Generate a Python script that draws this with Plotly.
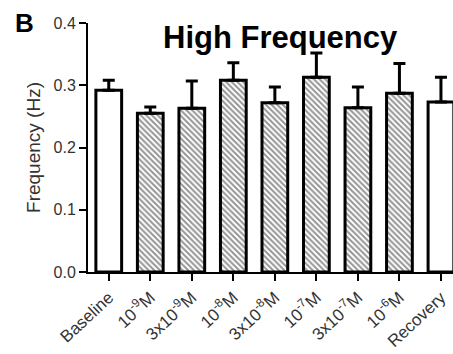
import plotly.graph_objects as go

categories = ["Baseline", "1e-9", "3e-9", "1e-8", "3e-8", "1e-7", "3e-7", "1e-6", "Recovery"]
tick_labels = ["Baseline", "10<sup>-9</sup>M", "3x10<sup>-9</sup>M", "10<sup>-8</sup>M",
               "3x10<sup>-8</sup>M", "10<sup>-7</sup>M", "3x10<sup>-7</sup>M", "10<sup>-6</sup>M", "Recovery"]
means = [0.292, 0.255, 0.263, 0.308, 0.272, 0.313, 0.264, 0.287, 0.273]
sem = [0.016, 0.010, 0.044, 0.028, 0.025, 0.039, 0.033, 0.048, 0.040]
hatched = [False, True, True, True, True, True, True, True, False]

font = "Arial, Liberation Sans, sans-serif"
x = list(range(len(categories)))

fig = go.Figure()
fig.add_trace(go.Bar(
    x=x, y=means, width=0.62,
    marker=dict(
        color="white",
        line=dict(color="black", width=3),
        pattern=dict(shape=["\\" if h else "" for h in hatched], fgcolor="#2a2a2a",
                     bgcolor="white", size=4, solidity=0.5),
    ),
    error_y=dict(type="data", array=sem, arrayminus=[0] * len(sem), symmetric=False,
                 color="black", thickness=3, width=6),
    showlegend=False,
))

fig.update_layout(
    width=453, height=354,
    margin=dict(l=88, r=0, t=23, b=82),
    paper_bgcolor="white", plot_bgcolor="white",
    font=dict(family=font, color="#333333"),
    xaxis=dict(
        range=[-0.5, 8.29], tickvals=x, ticktext=tick_labels, tickangle=-43,
        showline=True, linecolor="black", linewidth=2,
        ticks="outside", ticklen=7, tickwidth=2, tickcolor="black",
        tickfont=dict(size=17, color="#333333"), showgrid=False, zeroline=False,
    ),
    yaxis=dict(
        range=[0, 0.4], tickvals=[0, 0.1, 0.2, 0.3, 0.4], tickformat=".1f",
        showline=True, linecolor="black", linewidth=2,
        ticks="outside", ticklen=7, tickwidth=2, tickcolor="black",
        tickfont=dict(size=16, color="#333333"), showgrid=False, zeroline=False,
        title=dict(text="Frequency (Hz)", font=dict(size=19, color="#333333"), standoff=8),
    ),
    annotations=[
        dict(text="<b>High Frequency</b>", showarrow=False, xanchor="center", yanchor="middle",
             xref="paper", yref="paper", font=dict(size=31, color="black", family=font)),
        dict(text="<b>B</b>", showarrow=False, xanchor="center", yanchor="middle",
             xref="paper", yref="paper", font=dict(size=26, color="black", family=font)),
    ],
)

# place annotations in pixel terms relative to paper
W, H = 453, 354
l, r, t, b = 88, 0, 23, 82
pw, ph = W - l - r, H - t - b
def px(xp): return (xp - l) / pw
def py(yp): return (H - b - yp) / ph
fig.layout.annotations[0].update(x=px(280), y=py(38))
fig.layout.annotations[1].update(x=px(25), y=py(23))

fig.write_html("out.html")
